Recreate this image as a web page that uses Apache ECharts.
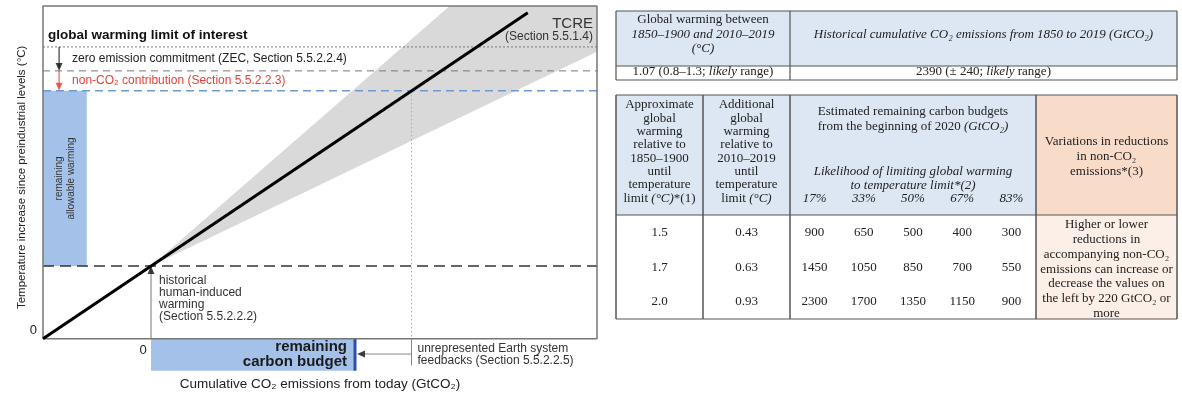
<!DOCTYPE html>
<html>
<head>
<meta charset="utf-8">
<script src="https://cdn.jsdelivr.net/npm/echarts@6/dist/echarts.min.js"></script>
<style>
html,body{margin:0;padding:0;background:#fff;}
#c{width:1182px;height:394px;}
</style>
</head>
<body>
<div id="c"></div>
<script>
// ---- Schematic remaining-carbon-budget diagram (arbitrary units) ----
const emissionsRange = [0, 100];        // cumulative CO2 emissions axis
const temperatureRange = [-10, 100];    // temperature axis; the band below zero holds the budget bar
const historicalEmissions = 19.5;       // "today" on the emissions axis
const tcreSlope = 1.12;                 // central TCRE: warming per unit of emissions
const tcreRangeSlopes = [0.80, 1.45];   // low / high TCRE spread after today
const tcreLineEnd = 87.5;
const warmingLimit = 87.7;              // global warming limit of interest
const zecLevel = 80.5;                  // limit minus zero emission commitment
const nonCO2Level = 74.5;               // limit minus ZEC minus non-CO2 contribution
const allowableBarSpan = [0, 7.9];
const feedbackReduction = 10.2;         // unrepresented Earth system feedbacks
const budgetBarDepth = -9.6;
const feedbackArrowLevel = -4.6;
const feedbackTickDepth = -8;
const levelArrowX = 2.9;

// ---- Table values ----
const warmingSince1850 = '1.07';
const warmingRange = '0.8–1.3';
const historicalEmissionsTotal = '2390';
const historicalEmissionsSpread = '240';
const temperatureLimits = ['1.5', '1.7', '2.0'];
const additionalWarming = ['0.43', '0.63', '0.93'];
const likelihoods = ['17%', '33%', '50%', '67%', '83%'];
const budgets = [
  [900, 650, 500, 400, 300],
  [1450, 1050, 850, 700, 550],
  [2300, 1700, 1350, 1150, 900]
];
const nonCO2Variation = 220;

// derived points
const historicalWarming = tcreSlope * historicalEmissions;
const budgetEnd = nonCO2Level / tcreSlope;
const budgetBarEnd = budgetEnd - feedbackReduction;

const SANS = '"Liberation Sans", Arial, sans-serif';
const SERIF = '"Liberation Serif", "Times New Roman", serif';

const chart = echarts.init(document.getElementById('c'), null, { renderer: 'canvas' });

function seg(points, color, width, type, z) {
  return {
    type: 'line', data: points, symbol: 'none', silent: true, clip: false,
    z: z || 3, animation: false,
    lineStyle: { color: color, width: width, type: type || 'solid', cap: 'butt' }
  };
}

// TCRE uncertainty cone, cut at the top and right of the plot
const xMax = emissionsRange[1], yMax = 100;
const xUpperHit = historicalEmissions + (yMax - historicalWarming) / tcreRangeSlopes[1];
const yLowerHit = historicalWarming + tcreRangeSlopes[0] * (xMax - historicalEmissions);
const conePoints = [
  [historicalEmissions, historicalWarming],
  [xUpperHit, yMax],
  [xMax, yMax],
  [xMax, yLowerHit]
];

function rectItem(x0, y0, x1, y1, fill) {
  return function (params, api) {
    const a = api.coord([x0, y1]);
    const b = api.coord([x1, y0]);
    return { type: 'rect', shape: { x: a[0], y: a[1], width: b[0] - a[0], height: b[1] - a[1] }, style: { fill: fill } };
  };
}

const arrowHeads = [
  { value: [levelArrowX, zecLevel], symbolRotate: 180, symbolOffset: [0, -4], itemStyle: { color: '#111' } },
  { value: [levelArrowX, nonCO2Level], symbolRotate: 180, symbolOffset: [0, -4], itemStyle: { color: '#e5403a' } },
  { value: [historicalEmissions, historicalWarming], symbolRotate: 0, symbolOffset: [0, 4], itemStyle: { color: '#111' } },
  { value: [budgetBarEnd, feedbackArrowLevel], symbolRotate: 90, symbolOffset: [6, 0], itemStyle: { color: '#111' } }
];

const option = {
  animation: false,
  grid: { left: 43, top: 6, width: 554, height: 366 },
  xAxis: { type: 'value', min: emissionsRange[0], max: emissionsRange[1], show: false },
  yAxis: { type: 'value', min: temperatureRange[0], max: temperatureRange[1], show: false },
  series: [
    { type: 'custom', silent: true, z: 1, data: [[0, 0]], renderItem: function (params, api) {
        return { type: 'polygon', shape: { points: conePoints.map(p => api.coord(p)) }, style: { fill: '#d9d9d9' } };
      } },
    { type: 'custom', silent: true, z: 1, data: [[0, 0]],
      renderItem: rectItem(allowableBarSpan[0], historicalWarming, allowableBarSpan[1], nonCO2Level, '#a4c2e9') },
    { type: 'custom', silent: true, z: 1, data: [[0, 0]],
      renderItem: rectItem(historicalEmissions, budgetBarDepth, budgetBarEnd, 0, '#a4c2e9') },
    seg([[budgetBarEnd, budgetBarDepth], [budgetBarEnd, 0]], '#2b50a6', 3, 'solid', 2),
    // reference levels
    seg([[0, warmingLimit], [xMax, warmingLimit]], '#7a7a7a', 1, [2, 2]),
    seg([[0, zecLevel], [xMax, zecLevel]], '#777', 1, [7, 5]),
    seg([[0, nonCO2Level], [xMax, nonCO2Level]], '#6e99d2', 1.5, [8, 5]),
    seg([[0, historicalWarming], [xMax, historicalWarming]], '#333', 1.5, [11, 6]),
    seg([[budgetEnd, nonCO2Level], [budgetEnd, 0]], '#8db0e0', 1, [1.5, 2.5]),
    // plot frame
    seg([[0, 0], [0, yMax], [xMax, yMax], [xMax, 0], [0, 0]], '#777', 1.5, 'solid', 4),
    // TCRE
    seg([[0, 0], [tcreLineEnd, tcreSlope * tcreLineEnd]], '#000', 3, 'solid', 5),
    // arrow shafts
    seg([[levelArrowX, warmingLimit], [levelArrowX, zecLevel + 1]], '#111', 1, 'solid', 5),
    seg([[levelArrowX, zecLevel], [levelArrowX, nonCO2Level + 1]], '#e5403a', 1, 'solid', 5),
    seg([[historicalEmissions, 0], [historicalEmissions, historicalWarming - 1]], '#777', 1, 'solid', 5),
    seg([[budgetEnd, 0], [budgetEnd, feedbackTickDepth]], '#888', 1, 'solid', 5),
    seg([[budgetEnd, feedbackArrowLevel], [budgetBarEnd + 1, feedbackArrowLevel]], '#888', 1, 'solid', 5),
    { type: 'scatter', silent: true, z: 6, symbol: 'triangle', symbolSize: [7, 8], data: arrowHeads, animation: false }
  ]
};
chart.setOption(option);

const P = (x, y) => chart.convertToPixel({ gridIndex: 0 }, [x, y]);

function txt(x, y, text, font, fill, align, extra) {
  const el = {
    type: 'text', x: x, y: y, silent: true, z: 100,
    style: {
      text: text, font: font, fill: fill || '#222',
      align: align || 'left', verticalAlign: 'middle',
      textAlign: align || 'left', textVerticalAlign: 'middle'
    }
  };
  if (extra) {
    if (extra.style) Object.assign(el.style, extra.style);
    if (extra.rotation !== undefined) el.rotation = extra.rotation;
  }
  return el;
}

const g = [];
const o = P(0, 0);
const pLimit = P(0, warmingLimit), pZec = P(0, zecLevel), pNon = P(0, nonCO2Level);
const pArrow = P(levelArrowX, 0);
const pHist = P(historicalEmissions, historicalWarming);
const pTop = P(xMax, yMax);
const pBar = P(budgetBarEnd, budgetBarDepth);
const pEnd = P(budgetEnd, 0);
const pAllow = P((allowableBarSpan[0] + allowableBarSpan[1]) / 2, (historicalWarming + nonCO2Level) / 2);

g.push(txt(o[0] + 5, pLimit[1] - 12, 'global warming limit of interest', 'bold 13.5px ' + SANS, '#111'));
g.push(txt(pArrow[0] + 13, (pLimit[1] + pZec[1]) / 2, 'zero emission commitment (ZEC, Section 5.5.2.2.4)', '12px ' + SANS, '#222'));
g.push(txt(pArrow[0] + 13, (pZec[1] + pNon[1]) / 2, 'non-CO₂ contribution (Section 5.5.2.2.3)', '12px ' + SANS, '#e5403a'));
g.push(txt(pTop[0] - 4, pTop[1] + 18, 'TCRE', '15px ' + SANS, '#333', 'right'));
g.push(txt(pTop[0] - 4, pTop[1] + 31, '(Section 5.5.1.4)', '12px ' + SANS, '#333', 'right'));
g.push(txt(pAllow[0], pAllow[1], 'remaining\nallowable warming', '10px ' + SANS, '#333', 'center',
  { rotation: Math.PI / 2, style: { lineHeight: 12 } }));
['historical', 'human-induced', 'warming', '(Section 5.5.2.2.2)'].forEach((s, i) => {
  g.push(txt(pHist[0] + 8, pHist[1] + 15 + i * 12, s, '12px ' + SANS, '#333'));
});
g.push(txt(o[0] - 6, o[1] - 8, '0', '13px ' + SANS, '#222', 'right'));
g.push(txt(pHist[0] - 8, o[1] + 12, '0', '13px ' + SANS, '#222', 'center'));
g.push(txt(pBar[0] - 8, o[1] + 8, 'remaining', 'bold 15px ' + SANS, '#1a1a1a', 'right'));
g.push(txt(pBar[0] - 8, o[1] + 23, 'carbon budget', 'bold 15px ' + SANS, '#1a1a1a', 'right'));
g.push(txt(pEnd[0] + 6, o[1] + 10, 'unrepresented Earth system', '12px ' + SANS, '#333'));
g.push(txt(pEnd[0] + 6, o[1] + 22, 'feedbacks (Section 5.5.2.2.5)', '12px ' + SANS, '#333'));
g.push(txt((o[0] + pTop[0]) / 2, 384, 'Cumulative CO₂ emissions from today (GtCO₂)', '13.5px ' + SANS, '#222', 'center'));
g.push(txt(22, (pTop[1] + o[1]) / 2 + 5, 'Temperature increase since preindustrial levels (°C)', '11.5px ' + SANS, '#222', 'center',
  { rotation: Math.PI / 2 }));

// ---- Tables ----
const LINE = '#555';
const BLUE = '#dde7f3', PEACH = '#f9dbca', PEACH_LIGHT = '#fcefe8';
const italic = { fontStyle: 'italic', fontSize: 13, fontFamily: SERIF, fill: '#222' };
const sub = { fontSize: 9, fontFamily: SERIF, fill: '#222', padding: [6, 0, 0, 0] };

function box(x0, y0, x1, y1, fill) {
  g.push({ type: 'rect', silent: true, z: 10, shape: { x: x0, y: y0, width: x1 - x0, height: y1 - y0 }, style: { fill: fill } });
}
function ln(x0, y0, x1, y1, w) {
  g.push({ type: 'line', silent: true, z: 20, shape: { x1: x0, y1: y0, x2: x1, y2: y1 }, style: { stroke: LINE, lineWidth: w || 1.2 } });
}
function cell(x, y, text, isItalic) {
  g.push({
    type: 'text', x: x, y: y, silent: true, z: 30,
    style: {
      text: text, font: (isItalic ? 'italic ' : '') + '13px ' + SERIF, fill: '#222',
      align: 'center', verticalAlign: 'middle', textAlign: 'center', textVerticalAlign: 'middle',
      rich: { i: italic }
    }
  });
}

// table 1: historical warming and emissions
const t1x = [616, 790, 1177], t1y = [11, 66, 80];
box(t1x[0], t1y[0], t1x[2], t1y[1], BLUE);
ln(t1x[0], t1y[0], t1x[2], t1y[0]); ln(t1x[0], t1y[1], t1x[2], t1y[1]); ln(t1x[0], t1y[2], t1x[2], t1y[2]);
t1x.forEach(x => ln(x, t1y[0], x, t1y[2]));
const c11 = (t1x[0] + t1x[1]) / 2, c12 = (t1x[1] + t1x[2]) / 2;
cell(c11, 20, 'Global warming between');
cell(c11, 34.5, '1850–1900 and 2010–2019', true);
cell(c11, 49, '(°C)', true);
cell(c12, 35, 'Historical cumulative CO₂ emissions from 1850 to 2019 (GtCO₂)', true);
cell(c11, 72, warmingSince1850 + ' (' + warmingRange + '; {i|likely} range)');
cell(c12, 72, historicalEmissionsTotal + ' (± ' + historicalEmissionsSpread + '; {i|likely} range)');

// table 2: remaining carbon budgets
const t2x = [616, 703, 790, 1036, 1177], t2y = [95, 215, 319];
box(t2x[0], t2y[0], t2x[3], t2y[1], BLUE);
box(t2x[3], t2y[0], t2x[4], t2y[1], PEACH);
box(t2x[3], t2y[1], t2x[4], t2y[2], PEACH_LIGHT);
t2y.forEach(y => ln(t2x[0], y, t2x[4], y));
t2x.forEach(x => ln(x, t2y[0], x, t2y[2], 1.5));

const col1 = ['Approximate', 'global', 'warming', 'relative to', '1850–1900', 'until', 'temperature', 'limit {i|(°C)}*(1)'];
const col2 = ['Additional', 'global', 'warming', 'relative to', '2010–2019', 'until', 'temperature', 'limit {i|(°C)}'];
const cA = (t2x[0] + t2x[1]) / 2, cB = (t2x[1] + t2x[2]) / 2, cC = (t2x[2] + t2x[3]) / 2, cD = (t2x[3] + t2x[4]) / 2;
col1.forEach((s, i) => cell(cA, 105 + i * 13.3, s));
col2.forEach((s, i) => cell(cB, 105 + i * 13.3, s));
cell(cC, 112, 'Estimated remaining carbon budgets');
cell(cC, 127, 'from the beginning of 2020 {i|(GtCO₂)}');
cell(cC, 172, 'Likelihood of limiting global warming', true);
cell(cC, 186, 'to temperature limit*(2)', true);
const subW = (t2x[3] - t2x[2]) / likelihoods.length;
const subX = likelihoods.map((_, i) => t2x[2] + subW * (i + 0.5));
likelihoods.forEach((s, i) => cell(subX[i], 199, s, true));
['Variations in reductions', 'in non-CO₂', 'emissions*(3)'].forEach((s, i) => cell(cD, 142 + i * 15, s));

const rowY = [233, 268, 302];
temperatureLimits.forEach((s, r) => cell(cA, rowY[r], s));
additionalWarming.forEach((s, r) => cell(cB, rowY[r], s));
budgets.forEach((row, r) => row.forEach((v, k) => cell(subX[k], rowY[r], String(v))));
['Higher or lower', 'reductions in', 'accompanying non-CO₂', 'emissions can increase or',
 'decrease the values on', 'the left by ' + nonCO2Variation + ' GtCO₂ or', 'more']
  .forEach((s, i) => cell(cD, 225 + i * 14.7, s));

chart.setOption({ graphic: { elements: g } });
</script>
</body>
</html>
